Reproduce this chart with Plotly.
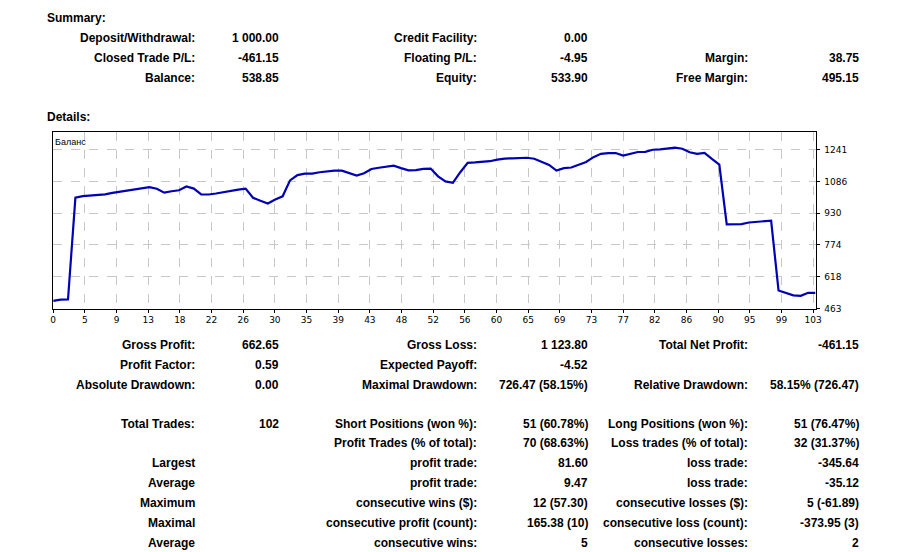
import plotly.graph_objects as go
import numpy as np

W, H = 905, 552

# ---------------- data ----------------
balance = [500, 506, 507, 1006, 1013, 1016, 1017, 1022, 1029, 1035,
           1040, 1046, 1051, 1057, 1049, 1030, 1037, 1042, 1060, 1050,
           1022, 1021, 1026, 1033, 1040, 1045, 1050, 1005, 990, 977,
           996, 1012, 1090, 1116, 1123, 1123, 1130, 1135, 1138, 1138,
           1125, 1114, 1125, 1146, 1152, 1158, 1162, 1150, 1139, 1140,
           1146, 1148, 1110, 1085, 1078, 1130, 1176, 1178, 1182, 1184,
           1192, 1197, 1198, 1200, 1201, 1196, 1180, 1166, 1138, 1150,
           1153, 1166, 1180, 1204, 1220, 1224, 1224, 1212, 1222, 1229,
           1230, 1240, 1242, 1246, 1250, 1245, 1228, 1220, 1225, 1195,
           1167, 875, 875, 876, 884, 886, 889, 893, 551, 540,
           527, 525, 540, 539]
trade_index = list(range(len(balance)))

x_tick_labels = ["0", "5", "9", "13", "18", "22", "26", "30", "35", "39", "43", "48",
                 "52", "56", "60", "65", "69", "73", "77", "82", "86", "90", "95", "99", "103"]
y_tick_values = [463, 618.6, 774.2, 929.8, 1085.4, 1241]
y_tick_labels = ["463", "618", "774", "930", "1086", "1241"]

summary_labels_1 = ["Deposit/Withdrawal:", "Closed Trade P/L:", "Balance:"]
summary_values_1 = ["1 000.00", "-461.15", "538.85"]
summary_labels_2 = ["Credit Facility:", "Floating P/L:", "Equity:"]
summary_values_2 = ["0.00", "-4.95", "533.90"]
summary_labels_3 = ["", "Margin:", "Free Margin:"]
summary_values_3 = ["", "38.75", "495.15"]

details_labels_1 = ["Gross Profit:", "Profit Factor:", "Absolute Drawdown:", "Total Trades:", "",
                    "Largest", "Average", "Maximum", "Maximal", "Average"]
details_values_1 = ["662.65", "0.59", "0.00", "102", "", "", "", "", "", ""]
details_labels_2 = ["Gross Loss:", "Expected Payoff:", "Maximal Drawdown:", "Short Positions (won %):",
                    "Profit Trades (% of total):", "profit trade:", "profit trade:",
                    "consecutive wins ($):", "consecutive profit (count):", "consecutive wins:"]
details_values_2 = ["1 123.80", "-4.52", "726.47 (58.15%)", "51 (60.78%)", "70 (68.63%)",
                    "81.60", "9.47", "12 (57.30)", "165.38 (10)", "5"]
details_labels_3 = ["Total Net Profit:", "", "Relative Drawdown:", "Long Positions (won %):",
                    "Loss trades (% of total):", "loss trade:", "loss trade:",
                    "consecutive losses ($):", "consecutive loss (count):", "consecutive losses:"]
details_values_3 = ["-461.15", "", "58.15% (726.47)", "51 (76.47%)", "32 (31.37%)",
                    "-345.64", "-35.12", "5 (-61.89)", "-373.95 (3)", "2"]

# ---------------- layout helpers ----------------
def px(x):
    return x / W

def py(y):
    return 1 - y / H

FONT = "Liberation Sans"
TXT = "#000000"
annotations = []

def add_text(text, x, y, anchor="right", size=12, bold=True):
    if not text:
        return
    annotations.append(dict(
        text=f"<b>{text}</b>" if bold else text,
        x=px(x), y=py(y), xref="paper", yref="paper",
        xanchor=anchor, yanchor="middle", showarrow=False,
        font=dict(family=FONT, size=size, color=TXT)))

add_text("Summary:", 42, 18, anchor="left")
add_text("Details:", 42, 118, anchor="left")

col_x = [196, 281, 481, 593, 755, 867]
summary_y = [38.5, 58.5, 78.5]
for i, yy in enumerate(summary_y):
    for cx, arr in zip(col_x, [summary_labels_1, summary_values_1, summary_labels_2,
                               summary_values_2, summary_labels_3, summary_values_3]):
        add_text(arr[i], cx, yy)

details_y = [348.5, 368.5, 388.5, 427.5, 447.5, 467.5, 487.5, 507.5, 527.5, 547.5]
for i, yy in enumerate(details_y):
    for cx, arr in zip(col_x, [details_labels_1, details_values_1, details_labels_2,
                               details_values_2, details_labels_3, details_values_3]):
        add_text(arr[i], cx, yy)

add_text("Баланс", 51, 143, anchor="left", size=9, bold=False)

# ---------------- chart ----------------
left, right, top, bottom = 50.7, 820.7, 133.0, 311.5
x_max = len(balance) - 1
grid_step = x_max * (767.6 / 770.0) / (len(x_tick_labels) - 1)
x_tick_values = [i * grid_step for i in range(len(x_tick_labels))]

fig = go.Figure()
fig.add_trace(go.Scatter(x=trade_index, y=balance, mode="lines",
                         line=dict(color="#0000B4", width=2.2),
                         hoverinfo="skip", showlegend=False))

fig.update_layout(
    width=W, height=H,
    margin=dict(l=0, r=0, t=0, b=0),
    paper_bgcolor="white", plot_bgcolor="white",
    showlegend=False,
    annotations=annotations,
    xaxis=dict(domain=[px(left), px(right)], range=[0, x_max],
               tickvals=x_tick_values, ticktext=x_tick_labels,
               showgrid=True, gridcolor="#c8c8c8", griddash="dash", gridwidth=1,
               showline=True, linecolor="black", linewidth=1, mirror=True,
               ticks="outside", ticklen=3, tickcolor="black",
               tickfont=dict(family="DejaVu Sans", size=9, color="black"),
               zeroline=False, fixedrange=True),
    yaxis=dict(domain=[py(bottom), py(top)], range=[462, 1328],
               side="right",
               tickvals=y_tick_values, ticktext=y_tick_labels,
               showgrid=True, gridcolor="#c8c8c8", griddash="dash", gridwidth=1,
               showline=True, linecolor="black", linewidth=1, mirror=True,
               ticks="outside", ticklen=3, tickcolor="black", ticklabelstandoff=3,
               tickfont=dict(family="DejaVu Sans", size=9, color="black"),
               zeroline=False, fixedrange=True),
)

fig.write_html("out.html")
